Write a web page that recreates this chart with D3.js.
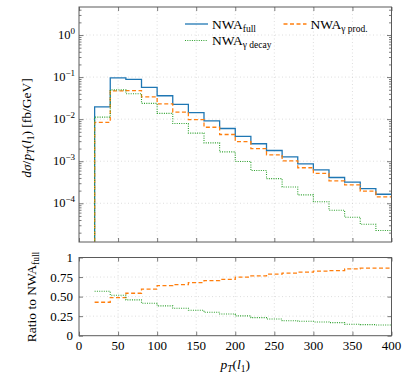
<!DOCTYPE html>
<html>
<head>
<meta charset="utf-8">
<script src="https://cdn.jsdelivr.net/npm/d3@7/dist/d3.min.js"></script>
<style>
  body { margin: 0; background: #fff; }
  svg text { font-family: "Liberation Serif", "DejaVu Serif", serif; fill: #000; }
</style>
</head>
<body>
<svg id="chart" width="407" height="383"></svg>
<script>
// bin edges of the p_T(l1) histogram (GeV)
const binEdges = [20, 40, 60, 80, 100, 120, 140, 160, 180, 200, 220, 240, 260, 280, 300, 320, 340, 360, 380, 400];

// dσ/dp_T per bin [fb/GeV]
const nwaFull  = [0.0196, 0.096, 0.088, 0.057, 0.036, 0.0224, 0.0143, 0.0091, 0.006, 0.0039, 0.0026, 0.0018, 0.00127, 0.00086, 0.00062, 0.00041, 0.00032, 0.000224, 0.000164];
const nwaProd  = [0.0084, 0.0468, 0.0478, 0.0339, 0.0231, 0.01465, 0.0097, 0.00642, 0.00432, 0.00292, 0.00199, 0.00142, 0.00102, 0.000699, 0.000512, 0.000342, 0.000274, 0.000194, 0.000142];
const nwaDecay = [0.0112, 0.0497, 0.0403, 0.0237, 0.0137, 0.00786, 0.00466, 0.00273, 0.00167, 0.000987, 0.0006, 0.000385, 0.000244, 0.000158, 0.000109, 0.0000685, 0.0000467, 0.0000318, 0.0000225];

// ratio panel (to NWA_full)
const ratioProd  = [0.428, 0.487, 0.543, 0.595, 0.641, 0.654, 0.679, 0.705, 0.72, 0.749, 0.765, 0.787, 0.80, 0.813, 0.826, 0.833, 0.855, 0.864, 0.864];
const ratioDecay = [0.569, 0.518, 0.458, 0.415, 0.381, 0.351, 0.326, 0.30, 0.278, 0.253, 0.231, 0.214, 0.192, 0.184, 0.176, 0.167, 0.146, 0.142, 0.137];

const xTicks = [0, 50, 100, 150, 200, 250, 300, 350, 400];
const yMainExps = [-4, -3, -2, -1, 0];
const yRatioTicks = [0, 0.25, 0.5, 0.75, 1];
const yRatioLabels = ["0", "0.25", "0.50", "0.75", "1"];

const colors = { full: "#1f77b4", prod: "#ff7f0e", decay: "#2ca02c" };
const frameColor = "#5a5a5a";

const left = 79, right = 391.5;
const main = { top: 7, bottom: 242 };
const ratio = { top: 257.5, bottom: 335.7 };

const svg = d3.select("#chart");

const x = d3.scaleLinear().domain([0, 400]).range([left, right]);
const y = d3.scaleLog().domain([1.2e-5, 4.64]).range([main.bottom, main.top]);
const yr = d3.scaleLinear().domain([0, 1]).range([ratio.bottom, ratio.top]);

// clip paths
const defs = svg.append("defs");
defs.append("clipPath").attr("id", "clipMain")
    .append("rect").attr("x", left).attr("y", main.top)
    .attr("width", right - left).attr("height", main.bottom - main.top);
defs.append("clipPath").attr("id", "clipRatio")
    .append("rect").attr("x", left).attr("y", ratio.top)
    .attr("width", right - left).attr("height", ratio.bottom - ratio.top);

// ---------- grids ----------
const gridStyle = g => g.attr("stroke", "#c8c8c8").attr("stroke-width", 0.6).attr("stroke-dasharray", "1,2.5");

const gMainGrid = svg.append("g").call(gridStyle);
xTicks.slice(1, -1).forEach(t => {
  gMainGrid.append("line").attr("x1", x(t)).attr("x2", x(t)).attr("y1", main.top).attr("y2", main.bottom);
  gMainGrid.append("line").attr("x1", x(t)).attr("x2", x(t)).attr("y1", ratio.top).attr("y2", ratio.bottom);
});
yMainExps.forEach(e => {
  gMainGrid.append("line").attr("x1", left).attr("x2", right).attr("y1", y(Math.pow(10, e))).attr("y2", y(Math.pow(10, e)));
});
yRatioTicks.slice(1, -1).forEach(t => {
  gMainGrid.append("line").attr("x1", left).attr("x2", right).attr("y1", yr(t)).attr("y2", yr(t));
});

// ---------- histogram lines ----------
const stepLine = (ys, withBase) => {
  const pts = binEdges.slice(0, -1).map((e, i) => [e, ys[i]]);
  pts.push([binEdges[binEdges.length - 1], ys[ys.length - 1]]);
  if (withBase) pts.unshift([binEdges[0], y.domain()[0] / 2]);
  return pts;
};

const mainLine = d3.line().x(d => x(d[0])).y(d => y(d[1])).curve(d3.curveStepAfter);
const ratioLine = d3.line().x(d => x(d[0])).y(d => yr(d[1])).curve(d3.curveStepAfter);

const series = [
  { data: nwaFull, ratio: null, color: colors.full, dash: null, width: 1.3 },
  { data: nwaProd, ratio: ratioProd, color: colors.prod, dash: "4,2.5", width: 1.3 },
  { data: nwaDecay, ratio: ratioDecay, color: colors.decay, dash: "1,1.3", width: 1.1 }
];

const gMain = svg.append("g").attr("clip-path", "url(#clipMain)");
series.forEach(s => {
  gMain.append("path")
       .attr("d", mainLine(stepLine(s.data, true)))
       .attr("fill", "none")
       .attr("stroke", s.color)
       .attr("stroke-width", s.width)
       .attr("stroke-dasharray", s.dash);
});

const gRatio = svg.append("g").attr("clip-path", "url(#clipRatio)");
series.filter(s => s.ratio).forEach(s => {
  gRatio.append("path")
        .attr("d", ratioLine(stepLine(s.ratio, false)))
        .attr("fill", "none")
        .attr("stroke", s.color)
        .attr("stroke-width", s.width)
        .attr("stroke-dasharray", s.dash);
});

// ---------- axes / ticks ----------
const styleAxis = g => {
  g.select(".domain").remove();
  g.selectAll(".tick line").attr("stroke", frameColor).attr("stroke-width", 0.8);
};

// main panel x ticks (top + bottom, inward, no labels)
svg.append("g").attr("transform", `translate(0,${main.bottom})`)
   .call(d3.axisBottom(x).tickValues(xTicks).tickSize(-4).tickFormat("")).call(styleAxis);
svg.append("g").attr("transform", `translate(0,${main.top})`)
   .call(d3.axisTop(x).tickValues(xTicks).tickSize(-4).tickFormat("")).call(styleAxis);

// main panel y ticks (log)
const majorY = yMainExps.map(e => Math.pow(10, e));
const minorY = [];
for (let e = -5; e <= 0; e++) for (let k = 2; k <= 9; k++) {
  const v = k * Math.pow(10, e);
  if (v > y.domain()[0] && v < y.domain()[1]) minorY.push(v);
}
svg.append("g").attr("transform", `translate(${left},0)`)
   .call(d3.axisLeft(y).tickValues(majorY).tickSize(-4.5).tickFormat("")).call(styleAxis);
svg.append("g").attr("transform", `translate(${left},0)`)
   .call(d3.axisLeft(y).tickValues(minorY).tickSize(-2.5).tickFormat("")).call(styleAxis);
svg.append("g").attr("transform", `translate(${right},0)`)
   .call(d3.axisRight(y).tickValues(majorY).tickSize(-4.5).tickFormat("")).call(styleAxis);
svg.append("g").attr("transform", `translate(${right},0)`)
   .call(d3.axisRight(y).tickValues(minorY).tickSize(-2.5).tickFormat("")).call(styleAxis);

// main y tick labels 10^e
const yLab = svg.append("g");
yMainExps.forEach(e => {
  const t = yLab.append("text")
                .attr("x", left - 4)
                .attr("y", y(Math.pow(10, e)) + 4)
                .attr("text-anchor", "end")
                .attr("font-size", 12.5);
  t.append("tspan").text("10");
  t.append("tspan").attr("dy", -5.5).attr("font-size", 9).text(e === 0 ? "0" : "\u2212" + Math.abs(e));
});

// ratio panel ticks
svg.append("g").attr("transform", `translate(0,${ratio.bottom})`)
   .call(d3.axisBottom(x).tickValues(xTicks).tickSize(-4).tickFormat("")).call(styleAxis);
svg.append("g").attr("transform", `translate(0,${ratio.top})`)
   .call(d3.axisTop(x).tickValues(xTicks).tickSize(-4).tickFormat("")).call(styleAxis);
svg.append("g").attr("transform", `translate(${left},0)`)
   .call(d3.axisLeft(yr).tickValues(yRatioTicks).tickSize(-4).tickFormat("")).call(styleAxis);
svg.append("g").attr("transform", `translate(${right},0)`)
   .call(d3.axisRight(yr).tickValues(yRatioTicks).tickSize(-4).tickFormat("")).call(styleAxis);

// ratio tick labels
svg.append("g").selectAll("text")
   .data(yRatioTicks)
   .enter().append("text")
   .attr("x", left - 6)
   .attr("y", d => yr(d) + 4.5)
   .attr("text-anchor", "end")
   .attr("font-size", 13)
   .text((d, i) => yRatioLabels[i]);

svg.append("g").selectAll("text")
   .data(xTicks)
   .enter().append("text")
   .attr("x", d => x(d))
   .attr("y", ratio.bottom + 14.5)
   .attr("text-anchor", "middle")
   .attr("font-size", 13)
   .text(d => d);

// frames
[main, ratio].forEach(p => {
  svg.append("rect")
     .attr("x", left).attr("y", p.top)
     .attr("width", right - left).attr("height", p.bottom - p.top)
     .attr("fill", "none").attr("stroke", frameColor).attr("stroke-width", 1);
});

// ---------- axis labels ----------
const xl = svg.append("text")
              .attr("x", x(200))
              .attr("y", 369)
              .attr("text-anchor", "middle")
              .attr("font-size", 13.5);
xl.append("tspan").attr("font-style", "italic").text("p");
xl.append("tspan").attr("font-style", "italic").attr("font-size", 9.5).attr("dy", 3).text("T");
xl.append("tspan").attr("dy", -3).text("(");
xl.append("tspan").attr("font-style", "italic").text("l");
xl.append("tspan").attr("font-size", 9.5).attr("dy", 3).text("1");
xl.append("tspan").attr("dy", -3).text(")");

const yl = svg.append("text")
              .attr("transform", `translate(31,128)rotate(-90)`)
              .attr("text-anchor", "middle")
              .attr("font-size", 13.5);
yl.append("tspan").attr("font-style", "italic").text("dσ");
yl.append("tspan").text("/");
yl.append("tspan").attr("font-style", "italic").text("p");
yl.append("tspan").attr("font-style", "italic").attr("font-size", 9.5).attr("dy", 3).text("T");
yl.append("tspan").attr("dy", -3).text("(");
yl.append("tspan").attr("font-style", "italic").text("l");
yl.append("tspan").attr("font-size", 9.5).attr("dy", 3).text("1");
yl.append("tspan").attr("dy", -3).text(") [fb/GeV]");

const rl = svg.append("text")
              .attr("transform", `translate(36,297)rotate(-90)`)
              .attr("text-anchor", "middle")
              .attr("font-size", 13.5);
rl.append("tspan").text("Ratio to NWA");
rl.append("tspan").attr("font-size", 9.5).attr("dy", 3).text("full");

// ---------- legend ----------
const legendItems = [
  { x0: 185, y0: 24, color: colors.full, dash: null, width: 1.3, sub: "full" },
  { x0: 283.5, y0: 24, color: colors.prod, dash: "4,2.5", width: 1.3, sub: "γ prod." },
  { x0: 185, y0: 40.5, color: colors.decay, dash: "1,1.3", width: 1.1, sub: "γ decay" }
];
const gLeg = svg.append("g");
legendItems.forEach(it => {
  gLeg.append("line")
      .attr("x1", it.x0).attr("x2", it.x0 + 23)
      .attr("y1", it.y0).attr("y2", it.y0)
      .attr("stroke", it.color).attr("stroke-width", it.width)
      .attr("stroke-dasharray", it.dash);
  const t = gLeg.append("text")
                .attr("x", it.x0 + 27)
                .attr("y", it.y0 + 4.5)
                .attr("font-size", 13.5);
  t.append("tspan").text("NWA");
  t.append("tspan").attr("font-size", 9.5).attr("dy", 3).text(it.sub);
});
</script>
</body>
</html>
